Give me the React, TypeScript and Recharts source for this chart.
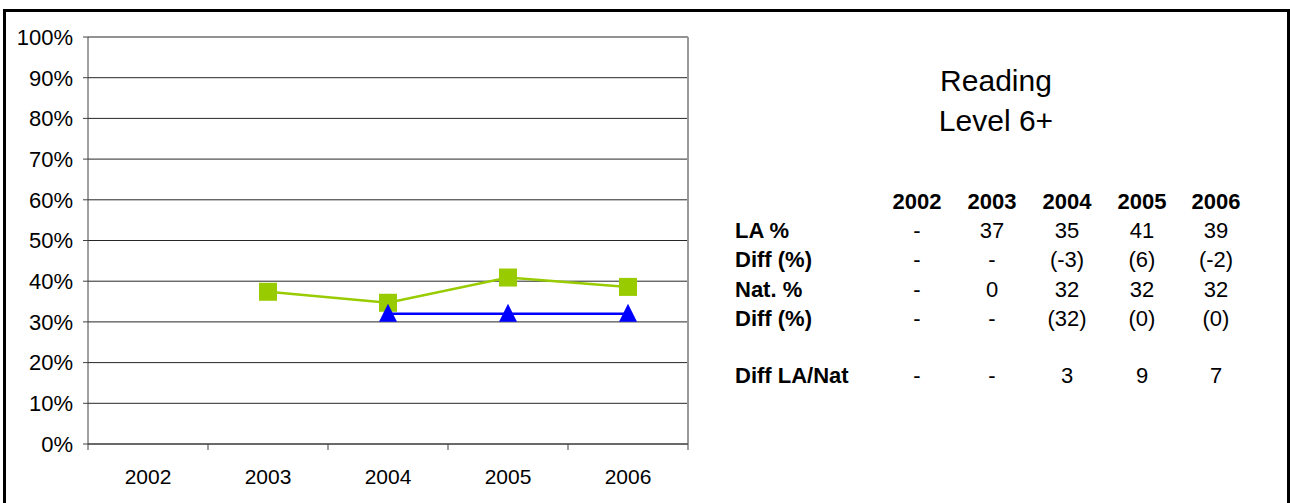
import React from 'react';
import { LineChart, Line, XAxis, YAxis, CartesianGrid } from 'recharts';

const years = ['2002', '2003', '2004', '2005', '2006'];
const laValues = [null, 37.4, 34.7, 40.9, 38.6];
const natValues = [null, null, 32, 32, 32];
const yTicks = [0, 10, 20, 30, 40, 50, 60, 70, 80, 90, 100];

const rowLabels = ['LA %', 'Diff (%)', 'Nat. %', 'Diff (%)', 'Diff LA/Nat'];
const laRow = ['-', '37', '35', '41', '39'];
const laDiffRow = ['-', '-', '(-3)', '(6)', '(-2)'];
const natRow = ['-', '0', '32', '32', '32'];
const natDiffRow = ['-', '-', '(32)', '(0)', '(0)'];
const gapRow = ['-', '-', '3', '9', '7'];

const data = years.map((year, i) => ({ year, la: laValues[i], nat: natValues[i] }));

const FONT = 'Liberation Sans, Arial, sans-serif';
const PLOT_W = 600;
const HALF_BAND = PLOT_W / years.length / 2;

const SquareDot = (props: any) => {
  const { cx, cy, value } = props;
  if (value == null || cx == null) return null;
  return <rect x={cx - 9} y={cy - 9} width={18} height={18} fill="#99CC00" />;
};

const TriangleDot = (props: any) => {
  const { cx, cy, value } = props;
  if (value == null || cx == null) return null;
  return <polygon points={`${cx},${cy - 10} ${cx + 9},${cy + 8} ${cx - 9},${cy + 8}`} fill="#0000FF" />;
};

const YearTick = (props: any) => {
  const { x, y, payload, index } = props;
  return (
    <g>
      <line x1={x - HALF_BAND} y1={y} x2={x - HALF_BAND} y2={y + 6} stroke="#404040" />
      {index === years.length - 1 && (
        <line x1={x + HALF_BAND} y1={y} x2={x + HALF_BAND} y2={y + 6} stroke="#404040" />
      )}
      <text x={x} y={y + 32} textAnchor="middle" dominantBaseline="central" fontSize={21} fontFamily={FONT} fill="#000">
        {payload.value}
      </text>
    </g>
  );
};

const colX = [917, 992, 1067, 1142, 1216];
const rowY = [230, 259, 289, 318, 375];
const tableRows = [laRow, laDiffRow, natRow, natDiffRow, gapRow];

export default function App() {
  return (
    <div style={{ position: 'absolute', left: 0, top: 0, width: 1290, height: 503, overflow: 'hidden', background: '#fff' }}>
      <div style={{ position: 'absolute', left: 3, top: 9, width: 1281, height: 520, border: '3px solid #000' }} />
      <div style={{ position: 'absolute', left: 0, top: 0 }}>
        <LineChart width={1290} height={503} data={data} margin={{ top: 37, left: 0, right: 602, bottom: 19 }}>
          <CartesianGrid vertical={false} stroke="#000" strokeOpacity={0.85} />
          <CartesianGrid
            horizontal={false}
            stroke="#999"
            strokeWidth={2}
            verticalCoordinatesGenerator={({ offset }: any) => [offset.left + offset.width]}
          />
          <XAxis
            dataKey="year"
            scale="band"
            height={40}
            stroke="#404040"
            tickSize={0}
            tickMargin={0}
            tick={<YearTick />}
            interval={0}
          />
          <YAxis
            width={88}
            domain={[0, 100]}
            ticks={yTicks}
            tickFormatter={(v) => `${v}%`}
            stroke="#404040"
            tickSize={5}
            tickMargin={10}
            tick={{ fontSize: 22, fontFamily: FONT, fill: '#000' }}
            interval={0}
          />
          <Line
            dataKey="la"
            stroke="#99CC00"
            strokeWidth={2.5}
            dot={<SquareDot />}
            activeDot={false}
            isAnimationActive={false}
          />
          <Line
            dataKey="nat"
            stroke="#0000FF"
            strokeWidth={2.5}
            dot={<TriangleDot />}
            activeDot={false}
            isAnimationActive={false}
          />
        </LineChart>
      </div>
      <svg width={1290} height={503} style={{ position: 'absolute', left: 0, top: 0, pointerEvents: 'none' }}>
        <g fontFamily={FONT} fill="#000">
          <text x={996} y={80} textAnchor="middle" dominantBaseline="central" fontSize={30}>Reading</text>
          <text x={996} y={120} textAnchor="middle" dominantBaseline="central" fontSize={30}>Level 6+</text>
          {years.map((y, i) => (
            <text key={y} x={colX[i]} y={201} textAnchor="middle" dominantBaseline="central" fontSize={22} fontWeight="bold">
              {y}
            </text>
          ))}
          {rowLabels.map((label, r) => (
            <g key={r}>
              <text x={735} y={rowY[r]} dominantBaseline="central" fontSize={22} fontWeight="bold">
                {label}
              </text>
              {tableRows[r].map((v, i) => (
                <text key={i} x={colX[i]} y={rowY[r]} textAnchor="middle" dominantBaseline="central" fontSize={22}>
                  {v}
                </text>
              ))}
            </g>
          ))}
        </g>
      </svg>
    </div>
  );
}
